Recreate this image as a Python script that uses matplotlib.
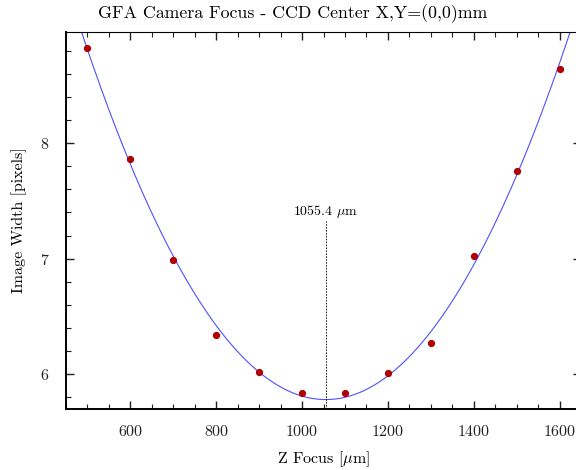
import numpy as np
import matplotlib
matplotlib.use("Agg")
import matplotlib.pyplot as plt
from matplotlib.ticker import MultipleLocator

plt.rcParams['font.family'] = 'serif'
plt.rcParams['font.serif'] = ['cmr10']
plt.rcParams['mathtext.fontset'] = 'cm'
plt.rcParams['axes.formatter.use_mathtext'] = True

z_focus = [500, 600, 700, 800, 900, 1000, 1100, 1200, 1300, 1400, 1500, 1600]
image_width = [8.82, 7.86, 6.99, 6.34, 6.02, 5.84, 5.84, 6.01, 6.27, 7.02, 7.76, 8.64]
best_focus = 1055.4
title = "GFA Camera Focus - CCD Center X,Y=(0,0)mm"

fig = plt.figure(figsize=(5.76, 4.70), dpi=100)
ax = fig.add_axes([66/576, 1-409/470, (581-66)/576, (409-32)/470])

coef = np.polyfit(z_focus, image_width, 2)
xs = np.linspace(440, 1660, 400)
ax.plot(xs, np.polyval(coef, xs), color='#5050ff', lw=0.8, zorder=2)
ax.plot(z_focus, image_width, 'o', color='#b00000', ms=4.2, zorder=3)

ax.set_xlim(450, 1650)
ax.set_ylim(5.7, 8.96)

ax.plot([best_focus, best_focus], [5.7, 7.33], color='black', ls=(0, (2, 1.5)), lw=0.6)
ax.text(best_focus, 7.335, r"1055.4 $\mu$m", ha='center', va='bottom', fontsize=10)

ax.xaxis.set_major_locator(MultipleLocator(200))
ax.xaxis.set_minor_locator(MultipleLocator(50))
ax.yaxis.set_major_locator(MultipleLocator(1))
ax.yaxis.set_minor_locator(MultipleLocator(0.2))
ax.tick_params(which='both', direction='in', top=True, right=True, labelsize=11.5, colors='#222222')
ax.tick_params(which='major', length=6, width=1.0)
ax.tick_params(which='minor', length=3.5, width=0.8)
ax.tick_params(axis='x', pad=11)
ax.tick_params(axis='y', pad=12)

for s in ['left', 'bottom']:
    ax.spines[s].set_linewidth(1.4)
ax.spines['top'].set_linewidth(0.8)
ax.spines['right'].set_linewidth(0.8)

ax.set_xlabel(r"Z Focus [$\mu$m]", fontsize=11.5, labelpad=7)
ax.set_ylabel("Image Width [pixels]", fontsize=11.5, labelpad=9)
fig.text(293/576, 1-14/470, title, ha='center', va='center', fontsize=12.8)

fig.savefig("out.png", dpi=100)
